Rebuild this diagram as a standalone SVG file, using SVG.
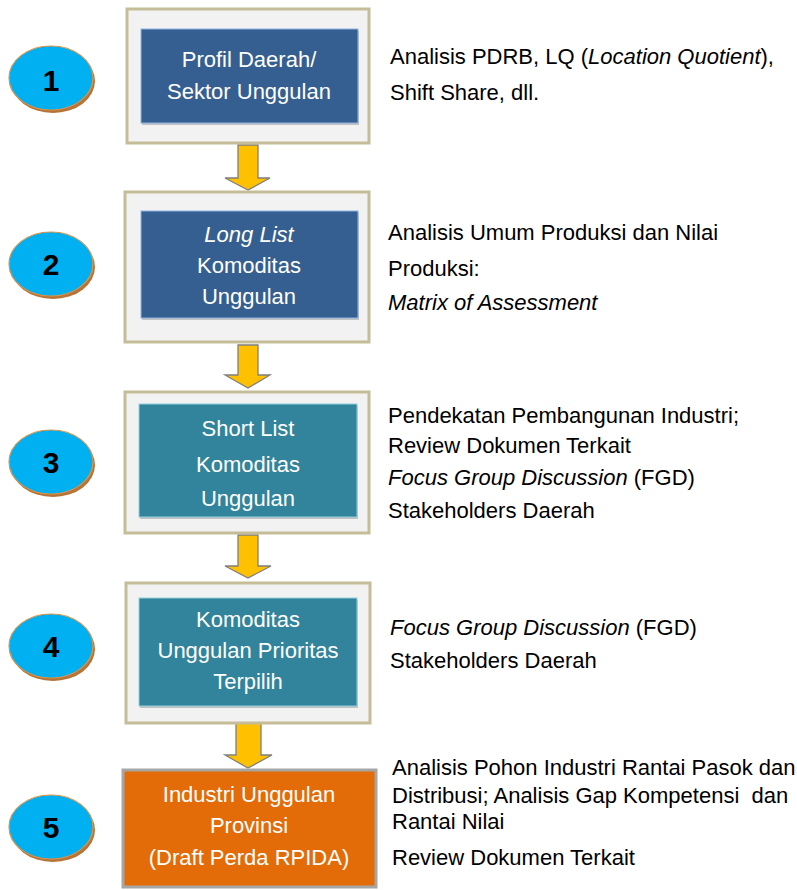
<svg xmlns="http://www.w3.org/2000/svg" width="797" height="890" viewBox="0 0 797 890">
<defs>
<style>
.outer{fill:#F2F2F2;stroke:#C4BD97;stroke-width:3}
.inner1{fill:#365F91;stroke:#8DB3E2;stroke-width:1}
.inner2{fill:#31849B;stroke:#92CDDC;stroke-width:1}
.shadow{fill:#9A9A9A;opacity:0.55}
.bt{font-family:"Liberation Sans",Arial,sans-serif;font-size:22px;fill:#FFFFFF;text-anchor:middle}
.rt{font-family:"Liberation Sans",Arial,sans-serif;font-size:22px;fill:#000000}
.num{font-family:"Liberation Sans",Arial,sans-serif;font-size:30px;font-weight:bold;fill:#000000;text-anchor:middle}
.cshadow{fill:#B87436}
.circle{fill:#00B0F0;stroke:#D9954F;stroke-width:1.2}
.arrow{fill:#FFC000;stroke:#7F7F7F;stroke-width:1.3;stroke-linejoin:miter}
</style>
</defs>
<rect width="797" height="890" fill="#FFFFFF"/>

<g id="connectors">
<path class="arrow" d="M238,145 H258 V178 H270 L248,190 L225,178 H238 Z"/>
<path class="arrow" d="M238,345 H258 V375 H270 L248,388 L225,375 H238 Z"/>
<path class="arrow" d="M238,535 H258 V566 H271 L248,578 L225,566 H238 Z"/>
<path class="arrow" d="M236,723 H261 V755 H272 L248,768 L225,755 H236 Z"/>
</g>

<g id="num1">
<ellipse class="cshadow" cx="53" cy="81" rx="42" ry="32"/>
<ellipse class="circle" cx="51" cy="78" rx="42" ry="32"/>
<text class="num" x="51" y="91">1</text>
</g>
<g id="num2">
<ellipse class="cshadow" cx="53" cy="267" rx="42" ry="32"/>
<ellipse class="circle" cx="51" cy="264" rx="42" ry="32"/>
<text class="num" x="51" y="275">2</text>
</g>
<g id="num3">
<ellipse class="cshadow" cx="53" cy="465" rx="42" ry="32"/>
<ellipse class="circle" cx="51" cy="462" rx="42" ry="32"/>
<text class="num" x="51" y="473">3</text>
</g>
<g id="num4">
<ellipse class="cshadow" cx="53" cy="649" rx="42" ry="32"/>
<ellipse class="circle" cx="51" cy="646" rx="42" ry="32"/>
<text class="num" x="51" y="657">4</text>
</g>
<g id="num5">
<ellipse class="cshadow" cx="53" cy="830" rx="42" ry="32"/>
<ellipse class="circle" cx="51" cy="827" rx="42" ry="32"/>
<text class="num" x="51" y="838">5</text>
</g>

<g id="box1">
<rect class="outer" x="127" y="9" width="242" height="134"/>
<rect class="shadow" x="142" y="31" width="217" height="94"/>
<rect class="inner1" x="141" y="29" width="217" height="94"/>
<text class="bt" x="249" y="67">Profil Daerah/</text>
<text class="bt" x="249" y="99">Sektor Unggulan</text>
</g>
<g id="box2">
<rect class="outer" x="125" y="192" width="244" height="150"/>
<rect class="shadow" x="142" y="213" width="217" height="107"/>
<rect class="inner1" x="141" y="211" width="217" height="107"/>
<text class="bt" x="249" y="242" font-style="italic">Long List</text>
<text class="bt" x="249" y="273">Komoditas</text>
<text class="bt" x="249" y="304">Unggulan</text>
</g>
<g id="box3">
<rect class="outer" x="125" y="392" width="244" height="141"/>
<rect class="shadow" x="140" y="406" width="218" height="113"/>
<rect class="inner2" x="139" y="404" width="218" height="113"/>
<text class="bt" x="248" y="436">Short List</text>
<text class="bt" x="248" y="472">Komoditas</text>
<text class="bt" x="248" y="506">Unggulan</text>
</g>
<g id="box4">
<rect class="outer" x="126" y="583" width="244" height="140"/>
<rect class="shadow" x="140" y="600" width="218" height="108"/>
<rect class="inner2" x="139" y="598" width="218" height="108"/>
<text class="bt" x="248" y="627">Komoditas</text>
<text class="bt" x="248" y="658">Unggulan Prioritas</text>
<text class="bt" x="248" y="689">Terpilih</text>
</g>
<g id="box5">
<rect x="123" y="770" width="253" height="117" fill="#E36C09" stroke="#A6A6A6" stroke-width="3"/>
<text class="bt" x="249" y="802">Industri Unggulan</text>
<text class="bt" x="249" y="833">Provinsi</text>
<text class="bt" x="249" y="865">(Draft Perda RPIDA)</text>
</g>

<g id="desc1">
<text class="rt" x="390" y="64">Analisis PDRB, LQ (<tspan font-style="italic">Location Quotient</tspan>),</text>
<text class="rt" x="390" y="100">Shift Share, dll.</text>
</g>
<g id="desc2">
<text class="rt" x="388" y="240">Analisis Umum Produksi dan Nilai</text>
<text class="rt" x="388" y="276">Produksi:</text>
<text class="rt" x="388" y="310" font-style="italic">Matrix of Assessment</text>
</g>
<g id="desc3">
<text class="rt" x="388" y="423">Pendekatan Pembangunan Industri;</text>
<text class="rt" x="388" y="453">Review Dokumen Terkait</text>
<text class="rt" x="388" y="485"><tspan font-style="italic">Focus Group Discussion</tspan> (FGD)</text>
<text class="rt" x="388" y="518">Stakeholders Daerah</text>
</g>
<g id="desc4">
<text class="rt" x="390" y="635"><tspan font-style="italic">Focus Group Discussion</tspan> (FGD)</text>
<text class="rt" x="390" y="668">Stakeholders Daerah</text>
</g>
<g id="desc5">
<text class="rt" x="392" y="775">Analisis Pohon Industri Rantai Pasok dan</text>
<text class="rt" x="392" y="803">Distribusi; Analisis Gap Kompetensi&#160; dan</text>
<text class="rt" x="392" y="829">Rantai Nilai</text>
<text class="rt" x="392" y="865">Review Dokumen Terkait</text>
</g>
</svg>
